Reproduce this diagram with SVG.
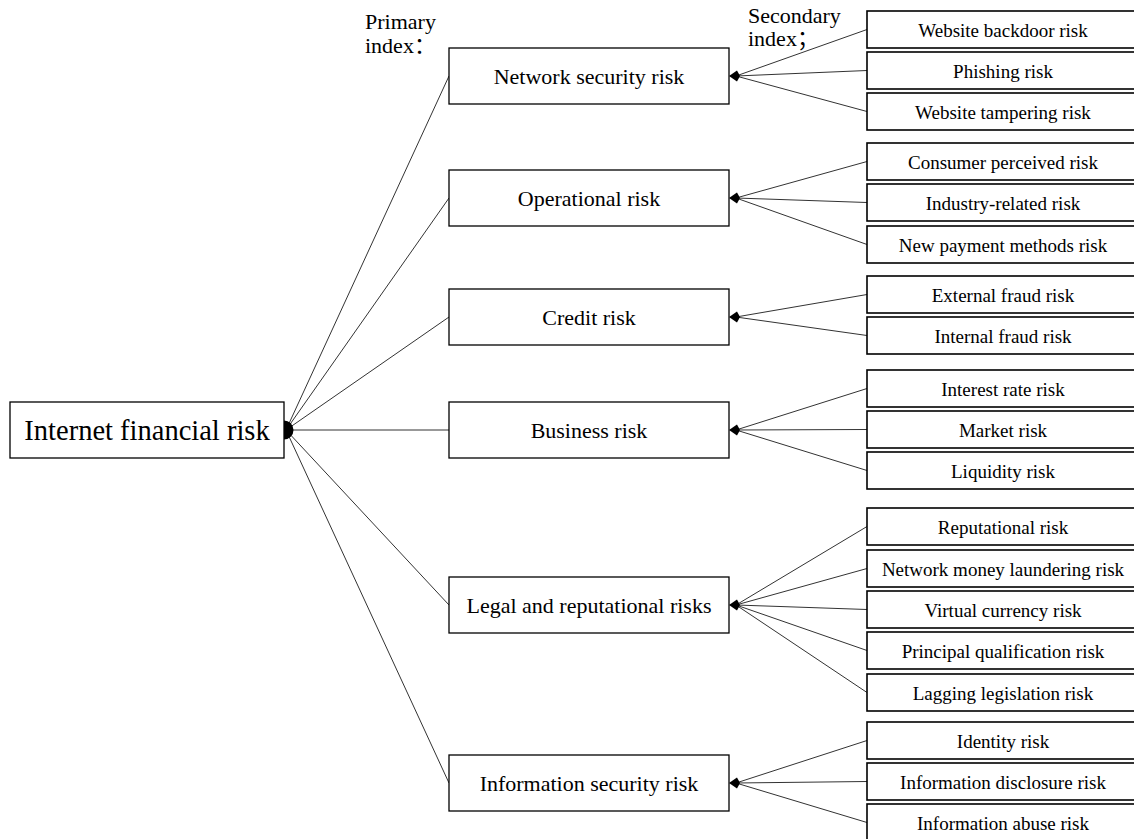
<svg xmlns="http://www.w3.org/2000/svg" xmlns:xlink="http://www.w3.org/1999/xlink" width="1134" height="839" viewBox="0 0 1134 839">
<style>
.box{fill:#fff;stroke:#000;stroke-width:1.3}
.sbox{fill:#fff;stroke:#000;stroke-width:1.6}
.t{font-family:"Liberation Serif","Noto Sans CJK SC",serif;fill:#000;text-anchor:middle}
.root{font-size:28.5px}
.p{font-size:22px}
.s{font-size:19px}
.lab{font-family:"Liberation Serif","Noto Sans CJK SC",serif;font-size:22px;fill:#000}
.c line{stroke:#333;stroke-width:1}
</style>
<defs>
<path id="ah" d="M0,0 L8,-5.5 L11,0 L8,5.5 Z" fill="#000"/>
</defs>
<rect width="1134" height="839" fill="#fff"/>
<g id="labels">
<text class="lab" x="365" y="29">Primary</text>
<text class="lab" x="365" y="53">index：</text>
<text class="lab" x="748" y="23">Secondary</text>
<text class="lab" x="748" y="46">index；</text>
</g>
<g id="connectors" class="c">
<line x1="286" y1="430" x2="449" y2="76"/>
<line x1="286" y1="430" x2="449" y2="198"/>
<line x1="286" y1="430" x2="449" y2="317"/>
<line x1="286" y1="430" x2="449" y2="430"/>
<line x1="286" y1="430" x2="449" y2="605"/>
<line x1="286" y1="430" x2="449" y2="783"/>
<line x1="867" y1="29.5" x2="736" y2="76"/>
<line x1="867" y1="70.5" x2="736" y2="76"/>
<line x1="867" y1="111.5" x2="736" y2="76"/>
<line x1="867" y1="161.5" x2="736" y2="198"/>
<line x1="867" y1="202.5" x2="736" y2="198"/>
<line x1="867" y1="244.5" x2="736" y2="198"/>
<line x1="867" y1="294.5" x2="736" y2="317"/>
<line x1="867" y1="335.5" x2="736" y2="317"/>
<line x1="867" y1="388.5" x2="736" y2="430"/>
<line x1="867" y1="429.5" x2="736" y2="430"/>
<line x1="867" y1="470.5" x2="736" y2="430"/>
<line x1="867" y1="526.5" x2="736" y2="605"/>
<line x1="867" y1="568.5" x2="736" y2="605"/>
<line x1="867" y1="609.5" x2="736" y2="605"/>
<line x1="867" y1="650.5" x2="736" y2="605"/>
<line x1="867" y1="692.5" x2="736" y2="605"/>
<line x1="867" y1="740.5" x2="736" y2="783"/>
<line x1="867" y1="781.5" x2="736" y2="783"/>
<line x1="867" y1="822.5" x2="736" y2="783"/>
<use xlink:href="#ah" x="729" y="76"/>
<use xlink:href="#ah" x="729" y="198"/>
<use xlink:href="#ah" x="729" y="317"/>
<use xlink:href="#ah" x="729" y="430"/>
<use xlink:href="#ah" x="729" y="605"/>
<use xlink:href="#ah" x="729" y="783"/>
<path d="M284,420.5 A9.5,9.5 0 0 1 284,439.5 Z" fill="#000"/>
</g>
<g id="root"><rect class="box" x="10" y="402" width="274" height="56"/><text class="t root" x="147" y="440">Internet financial risk</text></g>
<g id="p-network"><rect class="box" x="449" y="48" width="280" height="56"/><text class="t p" x="589" y="84">Network security risk</text></g>
<g id="p-operational"><rect class="box" x="449" y="170" width="280" height="56"/><text class="t p" x="589" y="206">Operational risk</text></g>
<g id="p-credit"><rect class="box" x="449" y="289" width="280" height="56"/><text class="t p" x="589" y="325">Credit risk</text></g>
<g id="p-business"><rect class="box" x="449" y="402" width="280" height="56"/><text class="t p" x="589" y="438">Business risk</text></g>
<g id="p-legal"><rect class="box" x="449" y="577" width="280" height="56"/><text class="t p" x="589" y="613">Legal and reputational risks</text></g>
<g id="p-info"><rect class="box" x="449" y="755" width="280" height="56"/><text class="t p" x="589" y="791">Information security risk</text></g>
<g id="s1"><rect class="sbox" x="867" y="11" width="275" height="37"/><text class="t s" x="1003" y="36.5">Website backdoor risk</text></g>
<g id="s2"><rect class="sbox" x="867" y="52" width="275" height="37"/><text class="t s" x="1003" y="77.5">Phishing risk</text></g>
<g id="s3"><rect class="sbox" x="867" y="93" width="275" height="37"/><text class="t s" x="1003" y="118.5">Website tampering risk</text></g>
<g id="s4"><rect class="sbox" x="867" y="143" width="275" height="37"/><text class="t s" x="1003" y="168.5">Consumer perceived risk</text></g>
<g id="s5"><rect class="sbox" x="867" y="184" width="275" height="37"/><text class="t s" x="1003" y="209.5">Industry-related risk</text></g>
<g id="s6"><rect class="sbox" x="867" y="226" width="275" height="37"/><text class="t s" x="1003" y="251.5">New payment methods risk</text></g>
<g id="s7"><rect class="sbox" x="867" y="276" width="275" height="37"/><text class="t s" x="1003" y="301.5">External fraud risk</text></g>
<g id="s8"><rect class="sbox" x="867" y="317" width="275" height="37"/><text class="t s" x="1003" y="342.5">Internal fraud risk</text></g>
<g id="s9"><rect class="sbox" x="867" y="370" width="275" height="37"/><text class="t s" x="1003" y="395.5">Interest rate risk</text></g>
<g id="s10"><rect class="sbox" x="867" y="411" width="275" height="37"/><text class="t s" x="1003" y="436.5">Market risk</text></g>
<g id="s11"><rect class="sbox" x="867" y="452" width="275" height="37"/><text class="t s" x="1003" y="477.5">Liquidity risk</text></g>
<g id="s12"><rect class="sbox" x="867" y="508" width="275" height="37"/><text class="t s" x="1003" y="533.5">Reputational risk</text></g>
<g id="s13"><rect class="sbox" x="867" y="550" width="275" height="37"/><text class="t s" x="1003" y="575.5">Network money laundering risk</text></g>
<g id="s14"><rect class="sbox" x="867" y="591" width="275" height="37"/><text class="t s" x="1003" y="616.5">Virtual currency risk</text></g>
<g id="s15"><rect class="sbox" x="867" y="632" width="275" height="37"/><text class="t s" x="1003" y="657.5">Principal qualification risk</text></g>
<g id="s16"><rect class="sbox" x="867" y="674" width="275" height="37"/><text class="t s" x="1003" y="699.5">Lagging legislation risk</text></g>
<g id="s17"><rect class="sbox" x="867" y="722" width="275" height="37"/><text class="t s" x="1003" y="747.5">Identity risk</text></g>
<g id="s18"><rect class="sbox" x="867" y="763" width="275" height="37"/><text class="t s" x="1003" y="788.5">Information disclosure risk</text></g>
<g id="s19"><rect class="sbox" x="867" y="804" width="275" height="37"/><text class="t s" x="1003" y="829.5">Information abuse risk</text></g>
</svg>
